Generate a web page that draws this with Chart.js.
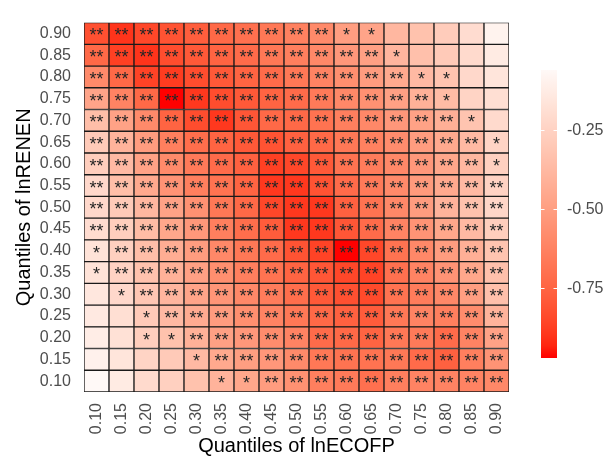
<!DOCTYPE html>
<html>
<head>
<meta charset="utf-8">
<script src="https://cdn.jsdelivr.net/npm/chart.js@4.4.1/dist/chart.umd.min.js"></script>
<style>
  html, body { margin: 0; padding: 0; background: #fff; }
  #wrap { position: relative; width: 615px; height: 459px; }
  #heat { position: absolute; left: 0; top: 0; }
  #legend { position: absolute; left: 541px; top: 0; }
</style>
</head>
<body>
<div id="wrap">
  <canvas id="heat" width="615" height="459"></canvas>
  <canvas id="legend" width="74" height="459"></canvas>
</div>
<script>
// quantile labels (x = lnECOFP, y = lnRENEN, bottom to top)
const xLabels = ['0.10','0.15','0.20','0.25','0.30','0.35','0.40','0.45','0.50','0.55','0.60','0.65','0.70','0.75','0.80','0.85','0.90'];
const yLabels = ['0.10','0.15','0.20','0.25','0.30','0.35','0.40','0.45','0.50','0.55','0.60','0.65','0.70','0.75','0.80','0.85','0.90'];

// coefficients, one array per lnRENEN quantile (columns = lnECOFP quantiles)
const rowQ90 = [-0.82,-0.90,-0.85,-0.81,-0.77,-0.73,-0.70,-0.67,-0.63,-0.59,-0.50,-0.47,-0.38,-0.33,-0.28,-0.20,-0.09];
const rowQ85 = [-0.73,-0.87,-0.90,-0.83,-0.79,-0.75,-0.72,-0.67,-0.64,-0.60,-0.53,-0.49,-0.39,-0.34,-0.29,-0.21,-0.13];
const rowQ80 = [-0.59,-0.73,-0.86,-0.88,-0.83,-0.79,-0.75,-0.72,-0.67,-0.62,-0.57,-0.51,-0.45,-0.37,-0.32,-0.22,-0.16];
const rowQ75 = [-0.47,-0.62,-0.73,-0.97,-0.89,-0.83,-0.79,-0.75,-0.72,-0.66,-0.60,-0.56,-0.49,-0.41,-0.36,-0.24,-0.19];
const rowQ70 = [-0.35,-0.48,-0.59,-0.75,-0.83,-0.89,-0.80,-0.73,-0.73,-0.69,-0.64,-0.60,-0.53,-0.48,-0.42,-0.32,-0.21];
const rowQ65 = [-0.29,-0.40,-0.51,-0.64,-0.71,-0.75,-0.79,-0.81,-0.76,-0.73,-0.67,-0.63,-0.58,-0.51,-0.45,-0.37,-0.24];
const rowQ60 = [-0.27,-0.37,-0.48,-0.59,-0.66,-0.72,-0.76,-0.87,-0.85,-0.79,-0.69,-0.65,-0.60,-0.53,-0.46,-0.38,-0.26];
const rowQ55 = [-0.22,-0.35,-0.45,-0.55,-0.64,-0.69,-0.75,-0.89,-0.89,-0.81,-0.72,-0.66,-0.59,-0.52,-0.45,-0.37,-0.25];
const rowQ50 = [-0.22,-0.29,-0.38,-0.48,-0.56,-0.67,-0.73,-0.85,-0.89,-0.89,-0.76,-0.69,-0.60,-0.51,-0.40,-0.33,-0.23];
const rowQ45 = [-0.20,-0.27,-0.36,-0.46,-0.53,-0.64,-0.71,-0.78,-0.89,-0.89,-0.80,-0.72,-0.62,-0.55,-0.46,-0.37,-0.27];
const rowQ40 = [-0.17,-0.26,-0.35,-0.43,-0.51,-0.60,-0.67,-0.72,-0.81,-0.86,-0.97,-0.85,-0.69,-0.60,-0.51,-0.42,-0.32];
const rowQ35 = [-0.17,-0.25,-0.33,-0.41,-0.49,-0.57,-0.64,-0.69,-0.75,-0.80,-0.85,-0.86,-0.70,-0.62,-0.55,-0.46,-0.34];
const rowQ30 = [-0.15,-0.22,-0.31,-0.39,-0.47,-0.54,-0.60,-0.65,-0.71,-0.79,-0.82,-0.84,-0.69,-0.65,-0.60,-0.50,-0.34];
const rowQ25 = [-0.14,-0.19,-0.29,-0.37,-0.44,-0.51,-0.57,-0.62,-0.67,-0.73,-0.76,-0.78,-0.67,-0.62,-0.64,-0.58,-0.40];
const rowQ20 = [-0.12,-0.18,-0.27,-0.33,-0.41,-0.49,-0.53,-0.58,-0.62,-0.72,-0.73,-0.75,-0.67,-0.66,-0.72,-0.62,-0.48];
const rowQ15 = [-0.10,-0.16,-0.24,-0.29,-0.37,-0.45,-0.50,-0.53,-0.59,-0.67,-0.69,-0.69,-0.67,-0.72,-0.76,-0.64,-0.55];
const rowQ10 = [-0.06,-0.13,-0.21,-0.26,-0.33,-0.40,-0.46,-0.51,-0.56,-0.64,-0.66,-0.70,-0.64,-0.62,-0.62,-0.62,-0.60];

// significance: 2 = "**", 1 = "*", 0 = none
const starsQ90 = '22222222221100000';
const starsQ85 = '22222222222210000';
const starsQ80 = '22222222222221100';
const starsQ75 = '22222222222222100';
const starsQ70 = '22222222222222210';
const starsQ65 = '22222222222222221';
const starsQ60 = '22222222222222221';
const starsQ55 = '22222222222222222';
const starsQ50 = '22222222222222222';
const starsQ45 = '22222222222222222';
const starsQ40 = '12222222222222222';
const starsQ35 = '12222222222222222';
const starsQ30 = '01222222222222222';
const starsQ25 = '00122222222222222';
const starsQ20 = '00112222222222222';
const starsQ15 = '00001222222222222';
const starsQ10 = '00000112222222222';

const legendTicks = [-0.25, -0.50, -0.75];

const rows = [rowQ10, rowQ15, rowQ20, rowQ25, rowQ30, rowQ35, rowQ40, rowQ45, rowQ50,
              rowQ55, rowQ60, rowQ65, rowQ70, rowQ75, rowQ80, rowQ85, rowQ90];
const stars = [starsQ10, starsQ15, starsQ20, starsQ25, starsQ30, starsQ35, starsQ40, starsQ45, starsQ50,
               starsQ55, starsQ60, starsQ65, starsQ70, starsQ75, starsQ80, starsQ85, starsQ90];

const allVals = rows.flat();
const vMin = Math.min(...allVals);
const vMax = Math.max(...allVals);

// red -> white gradient, interpolated in Lab like ggplot
const toLin = c => { c /= 255; return c <= 0.04045 ? c / 12.92 : Math.pow((c + 0.055) / 1.055, 2.4); };
const toSrgb = c => { c = Math.min(1, Math.max(0, c)); return 255 * (c <= 0.0031308 ? 12.92 * c : 1.055 * Math.pow(c, 1 / 2.4) - 0.055); };
function rgbToLab(r, g, b) {
  r = toLin(r); g = toLin(g); b = toLin(b);
  const X = (0.4124 * r + 0.3576 * g + 0.1805 * b) / 0.95047;
  const Y = 0.2126 * r + 0.7152 * g + 0.0722 * b;
  const Z = (0.0193 * r + 0.1192 * g + 0.9505 * b) / 1.08883;
  const f = t => t > 0.008856 ? Math.cbrt(t) : 7.787 * t + 16 / 116;
  return [116 * f(Y) - 16, 500 * (f(X) - f(Y)), 200 * (f(Y) - f(Z))];
}
function labToRgb(L, a, b) {
  const fy = (L + 16) / 116, fx = fy + a / 500, fz = fy - b / 200;
  const fi = t => t > 0.206893 ? t * t * t : (t - 16 / 116) / 7.787;
  const X = 0.95047 * fi(fx), Y = fi(fy), Z = 1.08883 * fi(fz);
  const r = 3.2406 * X - 1.5372 * Y - 0.4986 * Z;
  const g = -0.9689 * X + 1.8758 * Y + 0.0415 * Z;
  const bb = 0.0557 * X - 0.2040 * Y + 1.0570 * Z;
  return `rgb(${Math.round(toSrgb(r))},${Math.round(toSrgb(g))},${Math.round(toSrgb(bb))})`;
}
const LOW = rgbToLab(255, 0, 0), HIGH = rgbToLab(255, 255, 255);
const colorTop = vMax + 0.03; // a touch of pink at the top of the bar
function fillFor(v) {
  const t = Math.min(1, Math.max(0, (v - vMin) / (colorTop - vMin)));
  return labToRgb(LOW[0] + (HIGH[0] - LOW[0]) * t, LOW[1] + (HIGH[1] - LOW[1]) * t, LOW[2] + (HIGH[2] - LOW[2]) * t);
}

const FONT = '"Liberation Sans", Arial, sans-serif';
const TICK_COLOR = '#4d4d4d';

// draw the significance stars in the middle of each tile
const starPlugin = {
  id: 'stars',
  afterDatasetsDraw(chart) {
    const ctx = chart.ctx;
    ctx.save();
    ctx.fillStyle = '#262626';
    ctx.font = '18px ' + FONT;
    ctx.textAlign = 'center';
    ctx.textBaseline = 'alphabetic';
    chart.data.datasets.forEach((ds, i) => {
      chart.getDatasetMeta(i).data.forEach((bar, j) => {
        const n = +ds.stars[j];
        if (!n) return;
        const p = bar.getCenterPoint();
        ctx.fillText('*'.repeat(n), p.x, p.y + 8);
      });
    });
    ctx.restore();
  }
};

new Chart(document.getElementById('heat'), {
  type: 'bar',
  data: {
    labels: xLabels,
    datasets: rows.map((vals, i) => ({
      label: yLabels[i],
      data: vals.map(() => [i, i + 1]),
      backgroundColor: vals.map(fillFor),
      borderColor: '#1a1a1a',
      borderWidth: 1,
      borderSkipped: false,
      grouped: false,
      barPercentage: 1,
      categoryPercentage: 1,
      stars: stars[i]
    }))
  },
  options: {
    responsive: false,
    animation: false,
    layout: { padding: { top: 10, right: 106, bottom: 0, left: 0 } },
    plugins: { legend: { display: false }, tooltip: { enabled: false } },
    scales: {
      x: {
        grid: { display: false, drawTicks: false },
        border: { display: false },
        afterFit: s => { s.height = 67; },
        ticks: { minRotation: 90, maxRotation: 90, padding: 11, color: TICK_COLOR, font: { family: FONT, size: 16 } },
        title: { display: true, text: 'Quantiles of lnECOFP', color: '#000', padding: { top: 2, bottom: 1 }, font: { family: FONT, size: 20 } }
      },
      y: {
        type: 'linear',
        min: 0,
        max: yLabels.length,
        grid: { display: false, drawTicks: false },
        border: { display: false },
        afterFit: s => { s.width = 84; },
        afterBuildTicks: s => { s.ticks = yLabels.map((_, i) => ({ value: i + 0.5 })); },
        ticks: { padding: 13, color: TICK_COLOR, font: { family: FONT, size: 16 }, callback: v => yLabels[Math.floor(v)] },
        title: { display: true, text: 'Quantiles of lnRENEN', color: '#000', padding: { top: 12, bottom: 0 }, font: { family: FONT, size: 20 } }
      }
    }
  },
  plugins: [starPlugin]
});

// colour bar
const legendTickPlugin = {
  id: 'legendTicks',
  afterDatasetsDraw(chart) {
    const { ctx, chartArea, scales } = chart;
    ctx.save();
    ctx.strokeStyle = '#ffffff';
    ctx.lineWidth = 1;
    legendTicks.forEach(t => {
      const y = Math.round(scales.y.getPixelForValue(t)) + 0.5;
      ctx.beginPath();
      ctx.moveTo(chartArea.left, y); ctx.lineTo(chartArea.left + 3.5, y);
      ctx.moveTo(chartArea.right - 3.5, y); ctx.lineTo(chartArea.right, y);
      ctx.stroke();
    });
    ctx.restore();
  }
};

new Chart(document.getElementById('legend'), {
  type: 'bar',
  data: {
    labels: [''],
    datasets: [{
      data: [[vMin, vMax]],
      barPercentage: 1,
      categoryPercentage: 1,
      borderWidth: 0,
      backgroundColor: c => {
        const { chart } = c;
        if (!chart.chartArea) return fillFor(vMin);
        const y = chart.scales.y;
        const g = chart.ctx.createLinearGradient(0, y.getPixelForValue(vMin), 0, y.getPixelForValue(vMax));
        for (let k = 0; k <= 24; k++) {
          g.addColorStop(k / 24, fillFor(vMin + (vMax - vMin) * k / 24));
        }
        return g;
      }
    }]
  },
  options: {
    responsive: false,
    animation: false,
    layout: { padding: { top: 70, right: 0, bottom: 101, left: 0 } },
    plugins: { legend: { display: false }, tooltip: { enabled: false } },
    scales: {
      x: { display: false },
      y: {
        position: 'right',
        min: vMin,
        max: vMax,
        grid: { display: false, drawTicks: false },
        border: { display: false },
        afterFit: s => { s.width = 58; },
        afterBuildTicks: s => { s.ticks = legendTicks.map(v => ({ value: v })); },
        ticks: { padding: 10, color: TICK_COLOR, font: { family: FONT, size: 16 }, callback: v => v.toFixed(2) }
      }
    }
  },
  plugins: [legendTickPlugin]
});
</script>
</body>
</html>
